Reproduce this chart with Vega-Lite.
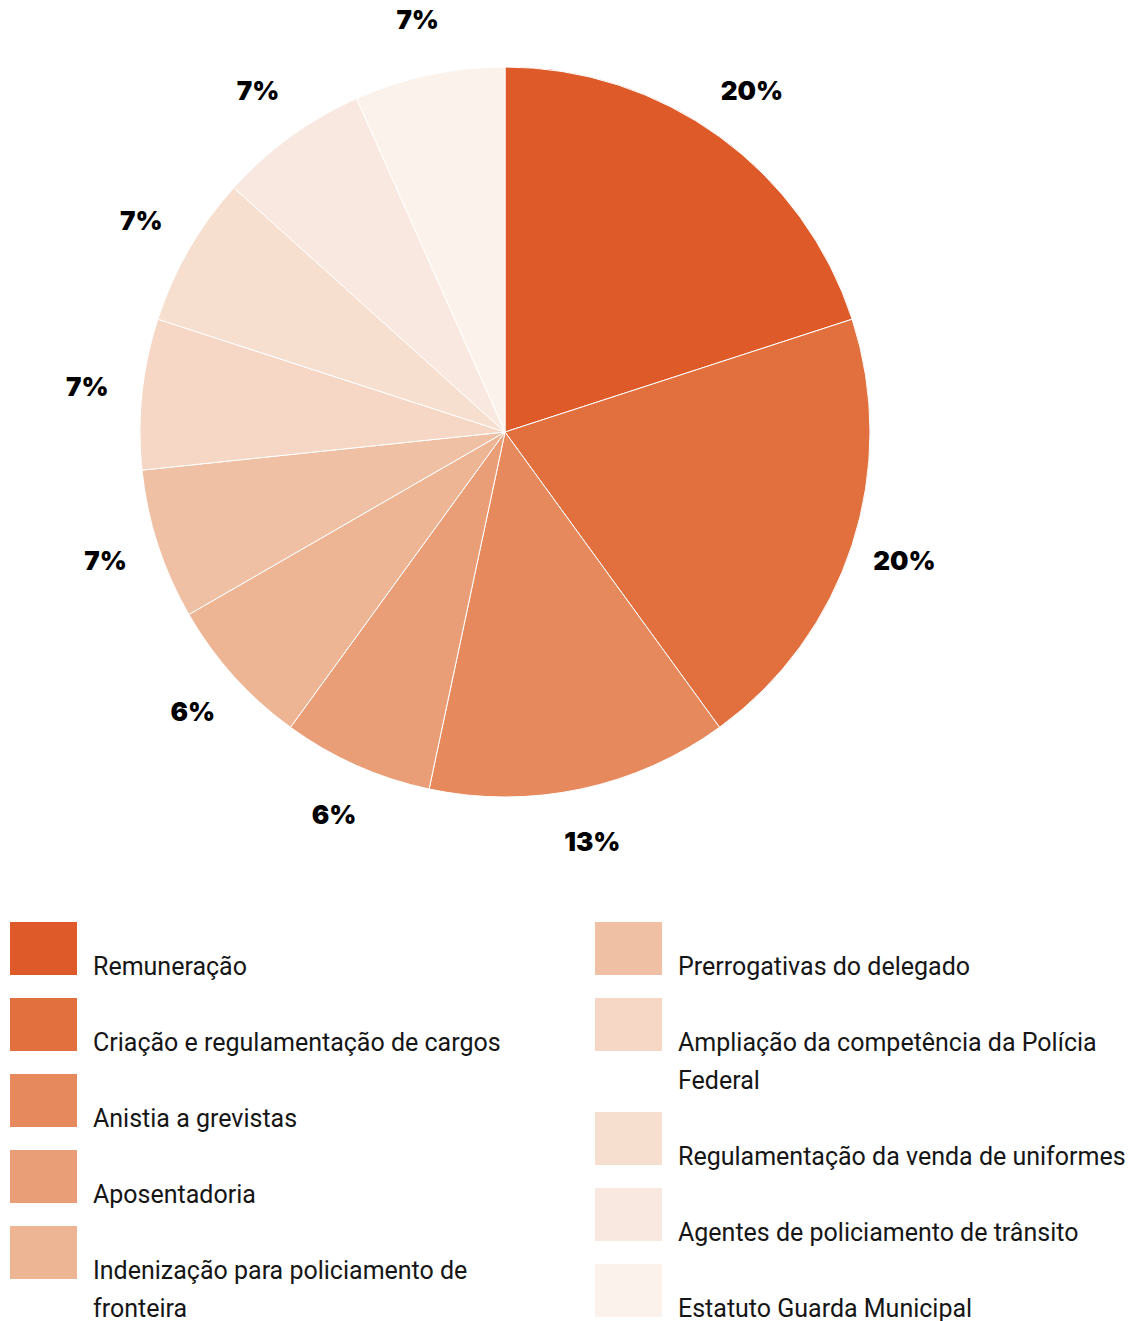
{
  "$schema": "https://vega.github.io/schema/vega-lite/v6.json",
  "width": 1010,
  "height": 864,
  "padding": 0,
  "autosize": {"type": "pad"},
  "background": "white",
  "config": {"view": {"stroke": null}, "style": {"guide-label": {"lineHeight": 38}}},
  "data": {
    "values": [
      {"cat": "Remuneração", "value": 3, "label": "20%", "order": 1},
      {"cat": "Criação e regulamentação de cargos", "value": 3, "label": "20%", "order": 2},
      {"cat": "Anistia a grevistas", "value": 2, "label": "13%", "order": 3},
      {"cat": "Aposentadoria", "value": 1, "label": "6%", "order": 4},
      {"cat": "Indenização para policiamento de fronteira", "value": 1, "label": "6%", "order": 5},
      {"cat": "Prerrogativas do delegado", "value": 1, "label": "7%", "order": 6},
      {"cat": "Ampliação da competência da Polícia Federal", "value": 1, "label": "7%", "order": 7},
      {"cat": "Regulamentação da venda de uniformes", "value": 1, "label": "7%", "order": 8},
      {"cat": "Agentes de policiamento de trânsito", "value": 1, "label": "7%", "order": 9},
      {"cat": "Estatuto Guarda Municipal", "value": 1, "label": "7%", "order": 10}
    ]
  },
  "encoding": {
    "theta": {"field": "value", "type": "quantitative", "stack": true},
    "order": {"field": "order", "type": "quantitative", "sort": "ascending"}
  },
  "layer": [
    {
      "mark": {"type": "arc", "outerRadius": 365, "stroke": "white", "strokeWidth": 1},
      "encoding": {
        "color": {
          "field": "cat",
          "type": "nominal",
          "scale": {
            "domain": ["Remuneração", "Criação e regulamentação de cargos", "Anistia a grevistas", "Aposentadoria", "Indenização para policiamento de fronteira", "Prerrogativas do delegado", "Ampliação da competência da Polícia Federal", "Regulamentação da venda de uniformes", "Agentes de policiamento de trânsito", "Estatuto Guarda Municipal"],
            "range": ["#de5a29", "#e1703e", "#e6895c", "#ea9e77", "#eeb594", "#f0c0a4", "#f6d6c4", "#f7dfd0", "#f9e8df", "#fbf2ec"]
          },
          "legend": {
            "values": ["Remuneração", "Criação e regulamentação de cargos", "Anistia a grevistas", "Aposentadoria", "Indenização para policiamento de fronteira"],
            "orient": "none",
            "legendX": 10,
            "legendY": 915,
            "direction": "vertical",
            "title": null,
            "padding": 0,
            "symbolType": "M-1,-0.791L1,-0.791L1,0.791L-1,0.791Z",
            "symbolSize": 4489,
            "symbolStrokeWidth": 0,
            "symbolOpacity": 1,
            "labelFont": "Roboto",
            "labelFontSize": 25,
            "labelColor": "#161616",
            "labelOffset": 16,
            "labelLimit": 700,
            "labelBaseline": "line-top",
            "rowPadding": 11,
            "labelExpr": "datum.label == 'Indenização para policiamento de fronteira' ? ['Indenização para policiamento de', 'fronteira'] : datum.label",
            "encode": {"labels": {"update": {"lineHeight": {"value": 38}}}}
          }
        }
      }
    },
    {
      "mark": {"type": "arc", "outerRadius": 365, "stroke": "white", "strokeWidth": 1},
      "encoding": {
        "fill": {
          "field": "cat",
          "type": "nominal",
          "scale": {
            "domain": ["Prerrogativas do delegado", "Ampliação da competência da Polícia Federal", "Regulamentação da venda de uniformes", "Agentes de policiamento de trânsito", "Estatuto Guarda Municipal", "Remuneração", "Criação e regulamentação de cargos", "Anistia a grevistas", "Aposentadoria", "Indenização para policiamento de fronteira"],
            "range": ["#f0c0a4", "#f6d6c4", "#f7dfd0", "#f9e8df", "#fbf2ec", "#de5a29", "#e1703e", "#e6895c", "#ea9e77", "#eeb594"]
          },
          "legend": {
            "values": ["Prerrogativas do delegado", "Ampliação da competência da Polícia Federal", "Regulamentação da venda de uniformes", "Agentes de policiamento de trânsito", "Estatuto Guarda Municipal"],
            "orient": "none",
            "legendX": 595,
            "legendY": 915,
            "direction": "vertical",
            "title": null,
            "padding": 0,
            "symbolType": "M-1,-0.791L1,-0.791L1,0.791L-1,0.791Z",
            "symbolSize": 4489,
            "symbolStrokeWidth": 0,
            "symbolOpacity": 1,
            "labelFont": "Roboto",
            "labelFontSize": 25,
            "labelColor": "#161616",
            "labelOffset": 16,
            "labelLimit": 700,
            "labelBaseline": "line-top",
            "rowPadding": 11,
            "labelExpr": "datum.label == 'Ampliação da competência da Polícia Federal' ? ['Ampliação da competência da Polícia', 'Federal'] : datum.label",
            "encode": {"labels": {"update": {"lineHeight": {"value": 38}}}}
          }
        }
      }
    },
    {
      "mark": {"type": "text", "radius": 420, "font": "Inter", "fontSize": 26, "fontWeight": 900, "color": "#000000"},
      "encoding": {
        "text": {"field": "label", "type": "nominal"}
      }
    }
  ]
}
